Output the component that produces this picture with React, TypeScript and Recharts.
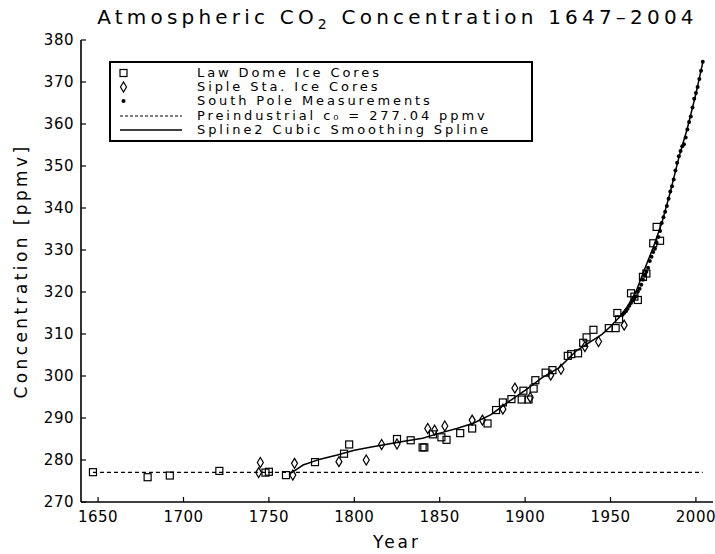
import { ComposedChart, Scatter, XAxis, YAxis } from 'recharts'

const xTicks = [1650, 1700, 1750, 1800, 1850, 1900, 1950, 2000]
const yTicks = [270, 280, 290, 300, 310, 320, 330, 340, 350, 360, 370, 380]

// Law Dome ice cores (squares)
const lawDomeYears = [
  1647, 1679, 1692, 1721, 1748, 1750, 1760, 1777, 1794, 1797, 1825, 1833, 1840, 1841,
  1846, 1851, 1854, 1862, 1869, 1878, 1883, 1887, 1892, 1898, 1899, 1902, 1905, 1906,
  1912, 1916, 1925, 1927, 1931, 1934, 1936, 1940, 1949, 1953, 1954, 1955, 1962, 1964,
  1966, 1969, 1971, 1975, 1977, 1979,
]
const lawDomePpm = [
  277.1, 275.9, 276.3, 277.4, 277.0, 277.2, 276.4, 279.5, 281.5, 283.7, 285.0, 284.7, 283.0, 283.0,
  286.1, 285.4, 284.8, 286.4, 287.5, 288.7, 291.9, 293.7, 294.5, 294.4, 296.5, 294.4, 297.0, 299.0,
  300.8, 301.4, 304.8, 305.2, 305.4, 307.9, 309.2, 311.0, 311.4, 311.4, 315.0, 313.5, 319.7, 318.9,
  318.1, 323.6, 324.4, 331.6, 335.5, 332.2,
]

// Siple Station ice cores (diamonds)
const sipleYears = [
  1744, 1745, 1764, 1765, 1791, 1807, 1816, 1825, 1843, 1847, 1853, 1869, 1875, 1887,
  1894, 1903, 1915, 1921, 1935, 1943, 1958,
]
const siplePpm = [
  277.0, 279.4, 276.4, 279.2, 279.6, 280.0, 283.7, 283.8, 287.5, 287.1, 288.1, 289.5, 289.5, 292.1,
  297.1, 294.9, 300.2, 301.6, 307.0, 308.2, 312.1,
]

// South Pole measurements (dots)
const southPoleYears = [
  1957, 1958, 1959, 1960, 1961, 1962, 1963, 1964, 1965, 1966, 1967, 1968, 1969, 1970, 1971, 1972,
  1973, 1974, 1975, 1976, 1977, 1978, 1979, 1980, 1981, 1982, 1983, 1984, 1985, 1986, 1987, 1988,
  1989, 1990, 1991, 1992, 1993, 1994, 1995, 1996, 1997, 1998, 1999, 2000, 2001, 2002, 2003, 2004,
]
const southPolePpm = [
  314.6, 315.0, 315.4, 316.0, 316.7, 317.4, 318.0, 318.6, 319.0, 320.1, 320.8, 321.7, 322.9, 324.0, 324.8, 325.8,
  327.4, 328.4, 329.5, 330.3, 331.7, 333.1, 334.5, 336.4, 337.8, 339.1, 340.5, 342.2, 343.9, 345.2, 346.8, 348.9,
  350.8, 352.3, 353.6, 354.7, 355.2, 356.8, 358.7, 360.5, 361.8, 363.9, 366.0, 367.4, 368.8, 370.7, 372.7, 374.8,
]

// smoothing spline
const splineYears = [
  1764, 1770, 1780, 1790, 1800, 1810, 1820, 1830, 1840, 1850, 1860, 1870, 1880, 1890, 1900,
  1910, 1920, 1930, 1940, 1945, 1950, 1955, 1960, 1965, 1970, 1975, 1980, 1985, 1990, 1995, 2000, 2004,
]
const splinePpm = [
  277.2, 278.8, 280.2, 281.2, 282.3, 283.1, 283.8, 284.5, 285.2, 286.4, 287.5, 288.8, 290.8, 293.8, 296.6,
  299.6, 302.0, 306.0, 308.6, 309.9, 311.8, 313.9, 316.6, 320.2, 325.5, 330.6, 336.4, 343.8, 352.0, 359.0, 367.2, 374.6,
]

const preindustrialYears = [1647, 2004]
const preindustrialPpm = [277.04, 277.04]

const zip = (xs: number[], ys: number[]) => xs.map((year, i) => ({ year, ppm: ys[i] }))

const lawDome = zip(lawDomeYears, lawDomePpm)
const siple = zip(sipleYears, siplePpm)
const southPole = zip(southPoleYears, southPolePpm)
const spline = zip(splineYears, splinePpm)
const preindustrial = zip(preindustrialYears, preindustrialPpm)

const font = '"DejaVu Sans", sans-serif'
const tickStyle = { fontFamily: font, fontSize: 15, fill: '#000', letterSpacing: 0.5 }
const axisLine = { stroke: '#000', strokeWidth: 1.6 }

const Square = (p: any) => (
  <rect x={p.cx - 3.5} y={p.cy - 3.5} width={7} height={7} fill="none" stroke="#000" strokeWidth={1.2} />
)
const Diamond = (p: any) => (
  <polygon
    points={`${p.cx},${p.cy - 5} ${p.cx + 3},${p.cy} ${p.cx},${p.cy + 5} ${p.cx - 3},${p.cy}`}
    fill="none"
    stroke="#000"
    strokeWidth={1.2}
  />
)
const Dot = (p: any) => <circle cx={p.cx} cy={p.cy} r={2} fill="#000" />
const Nothing = () => <g />

function LegendBox() {
  const row = { display: 'flex', alignItems: 'center', height: 14.2 }
  return (
    <div
      style={{
        position: 'absolute',
        left: 109,
        top: 61,
        width: 424,
        height: 81,
        boxSizing: 'border-box',
        border: '2px solid #000',
        background: '#fff',
        padding: '3px 0 0 8px',
        fontFamily: font,
        fontSize: 13,
        letterSpacing: 2.9,
        lineHeight: '14px',
      }}
    >
      <div style={row}>
        <svg width={78} height={14}><rect x={1} y={3.5} width={7} height={7} fill="none" stroke="#000" strokeWidth={1.2} /></svg>
        <span>Law Dome Ice Cores</span>
      </div>
      <div style={row}>
        <svg width={78} height={14}><polygon points="4.5,2 7.5,7 4.5,12 1.5,7" fill="none" stroke="#000" strokeWidth={1.2} /></svg>
        <span>Siple Sta. Ice Cores</span>
      </div>
      <div style={row}>
        <svg width={78} height={14}><circle cx={4.5} cy={7} r={2} fill="#000" /></svg>
        <span>South Pole Measurements</span>
      </div>
      <div style={row}>
        <svg width={78} height={14}><line x1={1} x2={63} y1={7} y2={7} stroke="#000" strokeWidth={1.2} strokeDasharray="3 2" /></svg>
        <span>Preindustrial c₀ = 277.04 ppmv</span>
      </div>
      <div style={row}>
        <svg width={78} height={14}><line x1={1} x2={63} y1={7} y2={7} stroke="#000" strokeWidth={1.4} /></svg>
        <span>Spline2 Cubic Smoothing Spline</span>
      </div>
    </div>
  )
}

export default function App() {
  return (
    <div style={{ position: 'absolute', left: 0, top: 0, width: 715, height: 554, background: '#fff' }}>
      <div
        style={{
          position: 'absolute',
          left: 0,
          top: 5,
          width: 795,
          textAlign: 'center',
          fontFamily: font,
          fontSize: 20,
          letterSpacing: 4.2,
          whiteSpace: 'nowrap',
          lineHeight: '24px',
        }}
      >
        Atmospheric CO<span style={{ position: 'relative', top: 5, fontSize: 14 }}>2</span> Concentration 1647–2004
      </div>

      <ComposedChart width={715} height={554} margin={{ top: 40, right: 2, bottom: 0, left: 0 }}>
        <XAxis
          xAxisId="bottom"
          dataKey="year"
          type="number"
          domain={[1640, 2010]}
          ticks={xTicks}
          allowDataOverflow
          height={52}
          tickSize={-5}
          tickMargin={14}
          tick={tickStyle}
          axisLine={axisLine}
          tickLine={{ stroke: '#000', strokeWidth: 1.2 }}
        />
        <XAxis
          xAxisId="top"
          orientation="top"
          dataKey="year"
          type="number"
          domain={[1640, 2010]}
          ticks={xTicks}
          allowDataOverflow
          height={0}
          tickSize={-5}
          tickFormatter={() => ''}
          axisLine={axisLine}
          tickLine={{ stroke: '#000', strokeWidth: 1.2 }}
        />
        <YAxis
          yAxisId="left"
          dataKey="ppm"
          type="number"
          domain={[270, 380]}
          ticks={yTicks}
          allowDataOverflow
          width={81}
          tickSize={-5}
          tickMargin={12}
          tick={tickStyle}
          axisLine={axisLine}
          tickLine={{ stroke: '#000', strokeWidth: 1.2 }}
        />
        <YAxis
          yAxisId="right"
          orientation="right"
          dataKey="ppm"
          type="number"
          domain={[270, 380]}
          ticks={yTicks}
          allowDataOverflow
          width={0}
          tickSize={-5}
          tickFormatter={() => ''}
          axisLine={axisLine}
          tickLine={{ stroke: '#000', strokeWidth: 1.2 }}
        />

        <Scatter
          xAxisId="top"
          yAxisId="right"
          data={preindustrial}
          line={{ stroke: '#000', strokeWidth: 1.3, strokeDasharray: '4 3' }}
          shape={Nothing}
          isAnimationActive={false}
        />
        <Scatter
          xAxisId="bottom"
          yAxisId="left"
          data={spline}
          line={{ stroke: '#000', strokeWidth: 1.5 }}
          shape={Nothing}
          isAnimationActive={false}
        />
        <Scatter xAxisId="bottom" yAxisId="left" data={lawDome} shape={Square} isAnimationActive={false} />
        <Scatter xAxisId="bottom" yAxisId="left" data={siple} shape={Diamond} isAnimationActive={false} />
        <Scatter xAxisId="bottom" yAxisId="left" data={southPole} shape={Dot} isAnimationActive={false} />
      </ComposedChart>

      <LegendBox />

      <div
        style={{
          position: 'absolute',
          left: 81,
          width: 632,
          top: 532,
          textAlign: 'center',
          fontFamily: font,
          fontSize: 17,
          letterSpacing: 3,
        }}
      >
        Year
      </div>
      <div
        style={{
          position: 'absolute',
          left: 22 - 150,
          top: 271 - 11,
          width: 300,
          height: 22,
          textAlign: 'center',
          fontFamily: font,
          fontSize: 17,
          letterSpacing: 3.4,
          transform: 'rotate(-90deg)',
        }}
      >
        Concentration [ppmv]
      </div>
    </div>
  )
}
